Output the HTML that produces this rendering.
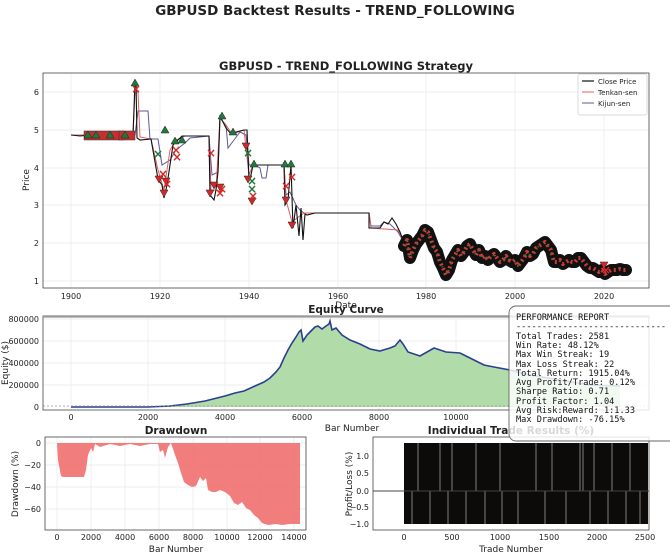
<!DOCTYPE html>
<html><head><meta charset="utf-8"><style>
html,body{margin:0;padding:0;background:#fff}
svg{display:block}
text{font-family:"DejaVu Sans","Liberation Sans",sans-serif}
.t text,text.t{font-size:8px;fill:#222}
.mono text{font-family:"DejaVu Sans Mono","Liberation Mono",monospace;font-size:8.6px;fill:#111}
.xr text{fill:#d62728}
.xg text{fill:#1e7a3a}
</style></head><body>
<svg width="670" height="560" viewBox="0 0 670 560" xmlns="http://www.w3.org/2000/svg">
<text x="335" y="15" text-anchor="middle" font-size="13.5" font-weight="bold" fill="#222">GBPUSD Backtest Results - TREND_FOLLOWING</text>

<text x="346" y="70" text-anchor="middle" font-size="11.5" font-weight="bold" fill="#222">GBPUSD - TREND_FOLLOWING Strategy</text>
<g stroke="#e8e8e8" stroke-width="0.7">
<line x1="71" y1="73" x2="71" y2="288"/><line x1="160" y1="73" x2="160" y2="288"/><line x1="249" y1="73" x2="249" y2="288"/><line x1="338" y1="73" x2="338" y2="288"/><line x1="426" y1="73" x2="426" y2="288"/><line x1="515" y1="73" x2="515" y2="288"/><line x1="604" y1="73" x2="604" y2="288"/>
<line x1="43" y1="92" x2="649" y2="92"/><line x1="43" y1="130" x2="649" y2="130"/><line x1="43" y1="168" x2="649" y2="168"/><line x1="43" y1="205" x2="649" y2="205"/><line x1="43" y1="243" x2="649" y2="243"/><line x1="43" y1="281" x2="649" y2="281"/>
</g>
<polyline fill="none" stroke="#5a5a9a" stroke-width="1" points="71,135 133,135 135,135 138,111 148,111 150,139 158,139 162,165 170,160 176,150 185,143 190,138 209,136 212,175 218,172 220,118 226,125 228,148 234,140 240,132 246,135 249,165 255,165 260,168 262,178 266,178 268,165 284,165 286,195 290,192 296,205 300,210 304,213 315,213 369,213 371,226 380,226 384,222 390,224 398,232 404,243"/>
<polyline fill="none" stroke="#e06060" stroke-width="1" points="71,135 133,135 135,92 138,92 140,137 151,139 158,170 164,190 170,150 176,140 185,136 209,136 211,190 216,190 220,118 226,125 232,134 244,130 249,175 253,165 284,165 286,200 292,222 297,218 304,213 369,213 371,228 398,230 404,243"/>
<polyline fill="none" stroke="#111" stroke-width="1.1" points="71,135 80,136 90,135 133,135 135,82 136,82 137,138 140,140 151,139 158,179 162,185 164,198 167,185 170,165 173,145 178,140 182,136 209,136 210,195 214,200 216,190 218,172 220,115 222,120 226,128 231,134 236,132 244,130 247,130 249,180 251,175 253,165 284,165 285,205 288,200 291,165 293,228 296,205 299,236 301,208 303,240 305,214 307,215 315,213 369,213 369,228 380,228 384,222 388,224 392,218 396,224 400,232 404,243"/>
<g stroke-linejoin="round" stroke-linecap="round" fill="none">
<polyline stroke="#111" stroke-width="12" points="404,246 407,240 410,258 413,250 416,244 419,240 422,236 425,230 428,232 431,240 434,248 437,252 440,262 443,268 446,275 449,270 452,260 455,255 458,250 461,256 464,252 467,246 470,244 473,250 476,255 479,250 482,258 485,256 488,260 491,256 494,254 497,258 500,262 503,260 506,256 509,260 512,262 515,260 518,266 521,262 524,258 527,252 530,256 533,254 536,248 539,246 542,244 545,242 548,246 551,250 554,262 557,262 560,260 563,264 566,262 569,260 572,262 575,262 578,258 581,258 584,262 587,266 590,268 593,268 596,270 599,272 602,270 605,274 608,272 611,270 614,270 617,270 620,269 623,270 626,270"/>
<polyline stroke="#c83a3a" stroke-width="4" stroke-linecap="butt" stroke-dasharray="2 3" points="404,246 407,240 410,258 413,250 416,244 419,240 422,236 425,230 428,232 431,240 434,248 437,252 440,262 443,268 446,275 449,270 452,260 455,255 458,250 461,256 464,252 467,246 470,244 473,250 476,255 479,250 482,258 485,256 488,260 491,256 494,254 497,258 500,262 503,260 506,256 509,260 512,262 515,260 518,266 521,262 524,258 527,252 530,256 533,254 536,248 539,246 542,244 545,242 548,246 551,250 554,262 557,262 560,260 563,264 566,262 569,260 572,262 575,262 578,258 581,258 584,262 587,266 590,268 593,268 596,270 599,272 602,270 605,274 608,272 611,270 614,270 617,270 620,269 623,270 626,270"/>
<polyline stroke="#2a8a3a" stroke-width="2" stroke-linecap="butt" stroke-dasharray="1 6" points="404,246 407,240 410,258 413,250 416,244 419,240 422,236 425,230 428,232 431,240 434,248 437,252 440,262 443,268 446,275 449,270 452,260 455,255 458,250 461,256 464,252 467,246 470,244 473,250 476,255 479,250 482,258 485,256 488,260 491,256 494,254 497,258 500,262 503,260 506,256 509,260 512,262 515,260 518,266 521,262 524,258 527,252 530,256 533,254 536,248 539,246 542,244 545,242 548,246 551,250 554,262"/>
</g>
<g stroke="#333" stroke-width="0.5">
<rect x="84" y="131" width="40" height="9" fill="#c43030"/>
<rect x="119" y="131" width="16" height="9" fill="#c43030"/>
</g>
<g stroke="#222" stroke-width="0.5">
<g fill="#1e7a3a">
<polygon points="135,79 131,86 139,86"/><polygon points="125,131 121,138 129,138"/><polygon points="165,126 161,133 169,133"/><polygon points="175,137 171,144 179,144"/><polygon points="182,136 178,143 186,143"/><polygon points="222,112 218,119 226,119"/><polygon points="233,128 229,135 237,135"/><polygon points="254,160 250,167 258,167"/><polygon points="285,160 281,167 289,167"/><polygon points="291,160 287,167 295,167"/><polygon points="96,131 92,138 100,138"/><polygon points="110,131 106,138 114,138"/><polygon points="88,131 84,138 92,138"/>
</g>
<g fill="#d62728">
<polygon points="155,176 163,176 159,183"/><polygon points="160,190 168,190 164,197"/><polygon points="162,178 170,178 166,185"/><polygon points="206,190 214,190 210,197"/><polygon points="210,182 218,182 214,189"/><polygon points="216,184 224,184 220,191"/><polygon points="242,143 250,143 246,150"/><polygon points="244,176 252,176 248,183"/><polygon points="248,198 256,198 252,205"/><polygon points="282,197 290,197 286,204"/><polygon points="288,222 296,222 292,229"/><polygon points="600,262 608,262 604,269"/>
</g>
</g>
<g font-size="12" font-weight="bold" text-anchor="middle" class="xr">
<text x="136" y="93">×</text><text x="163" y="178">×</text><text x="167" y="188">×</text><text x="176" y="154">×</text><text x="177" y="161">×</text><text x="211" y="157">×</text><text x="220" y="197">×</text><text x="222" y="193">×</text><text x="253" y="200">×</text><text x="286" y="190">×</text><text x="292" y="181">×</text><text x="606" y="274">×</text>
</g>
<g font-size="12" font-weight="bold" text-anchor="middle" class="xg">
<text x="158" y="158">×</text><text x="248" y="157">×</text><text x="252" y="185">×</text><text x="252" y="193">×</text>
</g>
<rect x="43" y="73" width="606" height="215" fill="none" stroke="#444" stroke-width="0.8"/>
<g class="t" text-anchor="middle">
<text x="71" y="299">1900</text><text x="160" y="299">1920</text><text x="249" y="299">1940</text><text x="338" y="299">1960</text><text x="426" y="299">1980</text><text x="515" y="299">2000</text><text x="604" y="299">2020</text>
<text x="346" y="308" style="font-size:9px">Date</text>
</g>
<g class="t" text-anchor="end">
<text x="39" y="95">6</text><text x="39" y="133">5</text><text x="39" y="171">4</text><text x="39" y="208">3</text><text x="39" y="246">2</text><text x="39" y="284">1</text>
</g>
<text font-size="9" fill="#222" transform="translate(29,180) rotate(-90)" text-anchor="middle">Price</text>
<rect x="578" y="74" width="69" height="41" fill="#fff" stroke="#ccc" stroke-width="0.7" rx="2"/>
<line x1="582" y1="81" x2="594" y2="81" stroke="#111" stroke-width="1.2"/><text x="598" y="84" font-size="7" fill="#222">Close Price</text>
<line x1="582" y1="92" x2="594" y2="92" stroke="#e06060"/><text x="598" y="95" font-size="7" fill="#222">Tenkan-sen</text>
<line x1="582" y1="103" x2="594" y2="103" stroke="#5a5a9a"/><text x="598" y="106" font-size="7" fill="#222">Kijun-sen</text>

<g stroke="#e8e8e8" stroke-width="0.7">
<line x1="71" y1="316" x2="71" y2="410"/><line x1="148" y1="316" x2="148" y2="410"/><line x1="225" y1="316" x2="225" y2="410"/><line x1="302" y1="316" x2="302" y2="410"/><line x1="379" y1="316" x2="379" y2="410"/><line x1="456" y1="316" x2="456" y2="410"/><line x1="533" y1="316" x2="533" y2="410"/>
<line x1="43" y1="319" x2="649" y2="319"/><line x1="43" y1="341" x2="649" y2="341"/><line x1="43" y1="363" x2="649" y2="363"/><line x1="43" y1="385" x2="649" y2="385"/>
</g>
<polygon fill="#a8d8a0" fill-opacity="0.9" points="71,407 148,407 170,406 187,404 205,401 225,396 235,393 244,391 255,386 264,382 270,378 276,372 280,367 284,358 288,350 292,343 296,337 299,332 301,330 303,341 307,335 311,331 315,327 318,326 322,329 326,326 329,324 330,321 332,330 336,328 342,335 350,340 360,344 370,349 380,351 390,348 395,346 400,340 403,344 408,352 420,356 434,348 446,352 460,353 472,359 484,365 494,367 510,370 530,375 560,380 590,385 620,386 620,407"/>
<polyline fill="none" stroke="#2a3f8f" stroke-width="1.6" points="71,407 148,407 170,406 187,404 205,401 225,396 235,393 244,391 255,386 264,382 270,378 276,372 280,367 284,358 288,350 292,343 296,337 299,332 301,330 303,341 307,335 311,331 315,327 318,326 322,329 326,326 329,324 330,321 332,330 336,328 342,335 350,340 360,344 370,349 380,351 390,348 395,346 400,340 403,344 408,352 420,356 434,348 446,352 460,353 472,359 484,365 494,367 510,370 530,375 560,380 590,385 620,386"/>
<line x1="43" y1="406" x2="649" y2="406" stroke="#999" stroke-dasharray="2 2" stroke-width="0.8"/>
<rect x="43" y="316" width="606" height="94" fill="none" stroke="#444" stroke-width="0.8"/>
<line x1="43" y1="317" x2="649" y2="317" stroke="#aaa" stroke-width="1.5"/>
<text x="346" y="313" text-anchor="middle" font-size="10.5" font-weight="bold" fill="#222">Equity Curve</text>
<g class="t" text-anchor="middle">
<text x="71" y="420">0</text><text x="148" y="420">2000</text><text x="225" y="420">4000</text><text x="302" y="420">6000</text><text x="379" y="420">8000</text><text x="456" y="420">10000</text>
<text x="352" y="431" style="font-size:9px">Bar Number</text>
</g>
<g class="t" text-anchor="end">
<text x="39" y="322">800000</text><text x="39" y="344">600000</text><text x="39" y="366">400000</text><text x="39" y="388">200000</text><text x="39" y="410">0</text>
</g>
<text font-size="9" fill="#222" transform="translate(8,363) rotate(-90)" text-anchor="middle">Equity ($)</text>

<g stroke="#e8e8e8" stroke-width="0.7">
<line x1="57" y1="437" x2="57" y2="530"/><line x1="91" y1="437" x2="91" y2="530"/><line x1="125" y1="437" x2="125" y2="530"/><line x1="159" y1="437" x2="159" y2="530"/><line x1="193" y1="437" x2="193" y2="530"/><line x1="227" y1="437" x2="227" y2="530"/><line x1="260" y1="437" x2="260" y2="530"/><line x1="294" y1="437" x2="294" y2="530"/>
<line x1="45" y1="443" x2="306" y2="443"/><line x1="45" y1="465" x2="306" y2="465"/><line x1="45" y1="487" x2="306" y2="487"/><line x1="45" y1="509" x2="306" y2="509"/>
</g>
<polygon fill="#ef6f6f" fill-opacity="0.9" points="57,443 58,460 61,476 63,477 84,477 86,470 88,455 91,448 93,452 95,444 100,447 110,444 120,446 130,444 140,446 150,444 158,444 160,452 163,450 165,458 168,447 171,443 175,455 178,463 181,473 184,482 188,485 192,487 196,486 200,477 203,481 206,478 208,490 212,492 216,492 220,490 225,492 230,496 234,503 238,505 242,502 246,508 250,510 254,515 258,518 262,523 268,525 276,524 282,525 290,524 297,524 300,524 300,443"/>
<rect x="45" y="437" width="261" height="93" fill="none" stroke="#444" stroke-width="0.8"/>
<text x="176" y="434" text-anchor="middle" font-size="10.5" font-weight="bold" fill="#222">Drawdown</text>
<g class="t" text-anchor="middle">
<text x="57" y="540">0</text><text x="91" y="540">2000</text><text x="125" y="540">4000</text><text x="159" y="540">6000</text><text x="193" y="540">8000</text><text x="227" y="540">10000</text><text x="260" y="540">12000</text><text x="294" y="540">14000</text>
<text x="176" y="552" style="font-size:9px">Bar Number</text>
</g>
<g class="t" text-anchor="end">
<text x="41" y="446">0</text><text x="41" y="468">−20</text><text x="41" y="490">−40</text><text x="41" y="512">−60</text>
</g>
<text font-size="9" fill="#222" transform="translate(18,484) rotate(-90)" text-anchor="middle">Drawdown (%)</text>

<rect x="404" y="443" width="244" height="81" fill="#0d0a0a"/>
<g stroke="#fff" stroke-width="0.6" opacity="0.8">
<line x1="418" y1="443" x2="418" y2="491"/><line x1="440" y1="443" x2="440" y2="491"/><line x1="452" y1="443" x2="452" y2="491"/><line x1="476" y1="443" x2="476" y2="491"/><line x1="500" y1="443" x2="500" y2="491"/><line x1="536" y1="443" x2="536" y2="491"/><line x1="552" y1="443" x2="552" y2="491"/><line x1="580" y1="443" x2="580" y2="491"/><line x1="583" y1="443" x2="583" y2="491"/><line x1="594" y1="443" x2="594" y2="491"/><line x1="612" y1="443" x2="612" y2="491"/><line x1="630" y1="443" x2="630" y2="491"/>
<line x1="412" y1="491" x2="412" y2="524"/><line x1="430" y1="491" x2="430" y2="524"/><line x1="448" y1="491" x2="448" y2="524"/><line x1="466" y1="491" x2="466" y2="524"/><line x1="485" y1="491" x2="485" y2="524"/><line x1="502" y1="491" x2="502" y2="524"/><line x1="518" y1="491" x2="518" y2="524"/><line x1="545" y1="491" x2="545" y2="524"/><line x1="566" y1="491" x2="566" y2="524"/><line x1="590" y1="491" x2="590" y2="524"/><line x1="608" y1="491" x2="608" y2="524"/><line x1="626" y1="491" x2="626" y2="524"/><line x1="640" y1="491" x2="640" y2="524"/>
</g>
<line x1="373" y1="491" x2="649" y2="491" stroke="#444" stroke-width="0.9"/>
<rect x="373" y="437" width="276" height="93" fill="none" stroke="#444" stroke-width="0.8"/>
<text x="511" y="434" text-anchor="middle" font-size="10.5" font-weight="bold" fill="#222">Individual Trade Results (%)</text>
<g class="t" text-anchor="middle">
<text x="404" y="540">0</text><text x="452" y="540">500</text><text x="500" y="540">1000</text><text x="549" y="540">1500</text><text x="597" y="540">2000</text><text x="645" y="540">2500</text>
<text x="511" y="552" style="font-size:9px">Trade Number</text>
</g>
<g class="t" text-anchor="end">
<text x="369" y="459">1.0</text><text x="369" y="476">0.5</text><text x="369" y="494">0.0</text><text x="369" y="510">−0.5</text><text x="369" y="527">−1.0</text>
</g>
<text font-size="9" fill="#222" transform="translate(352,484) rotate(-90)" text-anchor="middle">Profit/Loss (%)</text>

<rect x="509" y="306" width="170" height="135" rx="7" fill="#fff" fill-opacity="0.82" stroke="#666" stroke-width="0.9"/>
<g class="mono">
<text x="516" y="320">PERFORMANCE REPORT</text>
<text x="516" y="329">-----------------------------</text>
<text x="516" y="339">Total Trades: 2581</text>
<text x="516" y="348">Win Rate: 48.12%</text>
<text x="516" y="357">Max Win Streak: 19</text>
<text x="516" y="367">Max Loss Streak: 22</text>
<text x="516" y="376">Total Return: 1915.04%</text>
<text x="516" y="385">Avg Profit/Trade: 0.12%</text>
<text x="516" y="394">Sharpe Ratio: 0.71</text>
<text x="516" y="404">Profit Factor: 1.04</text>
<text x="516" y="413">Avg Risk:Reward: 1:1.33</text>
<text x="516" y="422">Max Drawdown: -76.15%</text>
</g>
</svg>
</body></html>
